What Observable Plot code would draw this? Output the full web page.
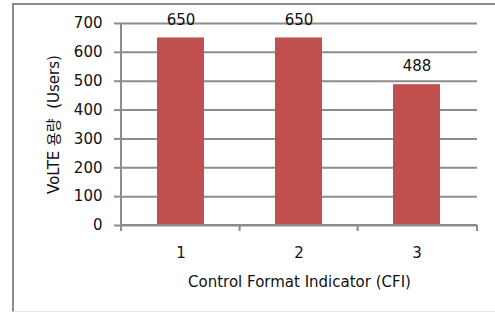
<!DOCTYPE html>
<html><head><meta charset="utf-8">
<script src="https://cdn.jsdelivr.net/npm/d3@7"></script>
<script src="https://cdn.jsdelivr.net/npm/@observablehq/plot@0.6"></script>
<style>
body{margin:0;background:#fff;}
#wrap{position:relative;width:495px;height:313px;overflow:hidden;background:#fff;}
#border{position:absolute;left:12px;top:3px;width:490px;height:309px;border-left:2px solid #8c8c8c;border-top:2px solid #8c8c8c;border-bottom:1px solid #e6e6e6;box-sizing:border-box}
#chart{position:absolute;left:0;top:0}
#chart svg{overflow:visible}
</style></head>
<body><div id="wrap"><div id="border"></div><div id="chart"></div></div>
<script>
const categories = ["1", "2", "3"];
const users = [650, 650, 488];
const yTicks = [0, 100, 200, 300, 400, 500, 600, 700];
const xTitle = "Control Format Indicator (CFI)";
const yTitle = "VoLTE 용량  (Users)";

const data = categories.map((c, i) => ({cfi: c, users: users[i]}));
const barColor = "#C0504D";
const gridColor = "#8c8c8c";
const textColor = "#111";
const font = "'DejaVu Sans', 'Noto Sans CJK KR', sans-serif";
const paddingInner = 0.6, paddingOuter = 0.3;

// custom axis frame: left axis line + band-boundary ticks on the x axis
function bandFrame(index, scales, values, dimensions) {
  const x = scales.x, y = scales.y;
  const step = x(categories[1]) - x(categories[0]);
  const bw = step * (1 - paddingInner);
  const left = dimensions.marginLeft;
  const right = dimensions.width - dimensions.marginRight;
  const bounds = [left];
  for (let i = 0; i < categories.length - 1; i++) {
    bounds.push((x(categories[i]) + bw + x(categories[i + 1])) / 2);
  }
  bounds.push(right);
  const y0 = y(0), yTop = y(yTicks[yTicks.length - 1]);
  const g = d3.create("svg:g").attr("stroke", gridColor).attr("stroke-width", 2);
  g.append("line").attr("x1", left).attr("x2", left).attr("y1", yTop).attr("y2", y0 + 6);
  g.append("line").attr("x1", left).attr("x2", right).attr("y1", y0).attr("y2", y0);
  for (const b of bounds.slice(1)) {
    g.append("line").attr("x1", b).attr("x2", b).attr("y1", y0).attr("y2", y0 + 6);
  }
  return g.node();
}

const chart = Plot.plot({
  width: 495,
  height: 313,
  marginLeft: 121,
  marginRight: 18,
  marginTop: 23,
  marginBottom: 88,
  style: {fontFamily: font, fontSize: "15px", color: textColor, background: "transparent"},
  x: {type: "band", domain: categories, paddingInner, paddingOuter},
  y: {domain: [0, 700]},
  marks: [
    Plot.gridY(yTicks, {stroke: gridColor, strokeOpacity: 1, strokeWidth: 2}),
    Plot.barY(data, {x: "cfi", y: "users", fill: barColor}),
    bandFrame,
    Plot.axisY(yTicks, {
      tickSize: 7, tickPadding: 12, stroke: gridColor, strokeWidth: 2,
      label: yTitle, labelAnchor: "center", labelArrow: "none", labelOffset: 73,
      fontSize: 15
    }),
    Plot.axisX({
      tickSize: 0, tickPadding: 22, label: xTitle, labelAnchor: "center",
      labelArrow: "none", labelOffset: 61, fontSize: 15
    }),
    Plot.text(data, {x: "cfi", y: "users", text: d => String(d.users), dy: -18, fontSize: 15, fill: textColor})
  ]
});
document.getElementById("chart").appendChild(chart);
</script>
</body></html>
